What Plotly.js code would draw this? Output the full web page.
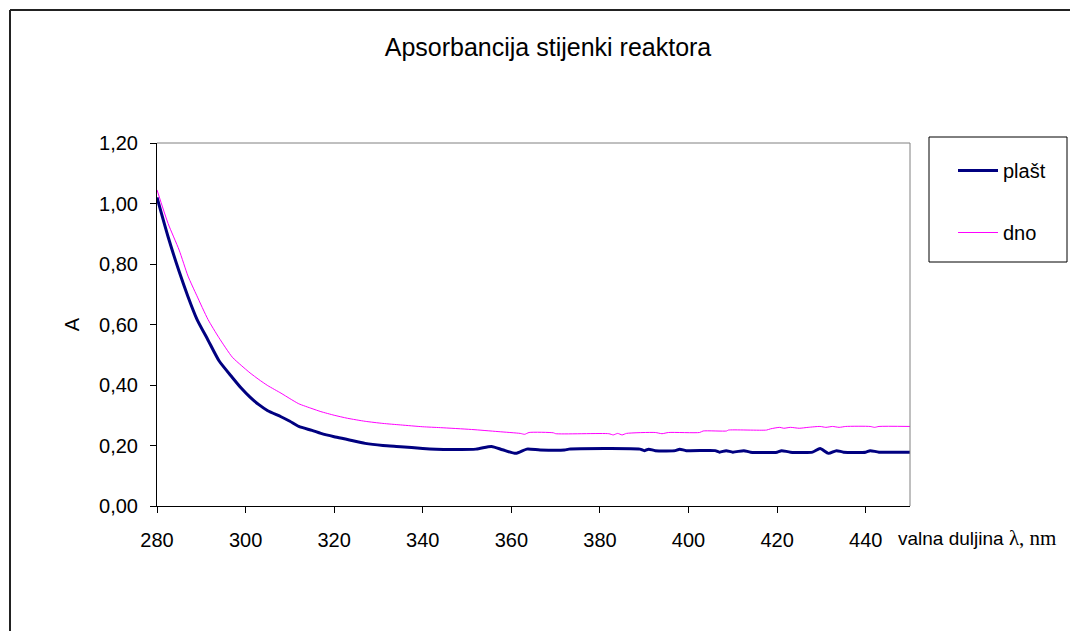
<!DOCTYPE html>
<html>
<head>
<meta charset="utf-8">
<script src="https://cdn.plot.ly/plotly-3.0.1.min.js"></script>
<style>
  html, body { margin: 0; padding: 0; background: #fff; }
  #chart { width: 1070px; height: 631px; }
</style>
</head>
<body>
<div id="chart"></div>
<script>
// Wavelength (nm) and absorbance values
const plastNm = [280, 282.5, 285, 287, 289, 291.5, 294, 297, 299, 301, 303, 305, 308, 310, 312, 315, 317, 320, 323, 327, 331, 335, 340, 343, 352, 355.5, 358, 361, 363.5, 366.5, 372, 373, 389, 390, 391, 392.5, 397, 398, 399.5, 406, 407, 408.5, 410, 412.5, 414, 420, 421, 423, 428, 429.7, 431.6, 433.4, 435, 440, 441, 443, 450];
const plastA = [1.02, 0.89, 0.775, 0.692, 0.618, 0.549, 0.48, 0.425, 0.39, 0.36, 0.335, 0.315, 0.295, 0.28, 0.263, 0.25, 0.24, 0.229, 0.22, 0.207, 0.2, 0.196, 0.19, 0.188, 0.188, 0.197, 0.186, 0.174, 0.188, 0.185, 0.185, 0.188, 0.188, 0.183, 0.188, 0.183, 0.183, 0.188, 0.183, 0.183, 0.178, 0.183, 0.178, 0.183, 0.178, 0.178, 0.183, 0.178, 0.178, 0.19, 0.174, 0.183, 0.178, 0.178, 0.183, 0.178, 0.178];

const dnoNm = [280, 282.5, 285, 287, 289, 291.5, 294, 297, 299, 301, 303, 305, 308, 310, 312, 315, 317, 320, 323, 327, 331, 335, 340, 344, 351, 357, 362, 363, 364, 369.5, 370, 382, 383, 384, 385, 386, 392.5, 394, 395.5, 402.5, 403.3, 408.6, 409, 417.6, 418.5, 420.6, 421.5, 423, 425, 427, 429.7, 431, 432.5, 434, 435.5, 441, 442, 443, 450];
const dnoA = [1.045, 0.934, 0.846, 0.76, 0.695, 0.617, 0.556, 0.492, 0.465, 0.44, 0.418, 0.398, 0.373, 0.355, 0.338, 0.322, 0.312, 0.3, 0.29, 0.28, 0.273, 0.268, 0.262, 0.259, 0.253, 0.246, 0.24, 0.237, 0.243, 0.242, 0.239, 0.239, 0.235, 0.24, 0.235, 0.24, 0.243, 0.239, 0.243, 0.243, 0.248, 0.248, 0.251, 0.251, 0.255, 0.26, 0.257, 0.26, 0.257, 0.26, 0.263, 0.26, 0.263, 0.26, 0.263, 0.263, 0.26, 0.263, 0.263];

const seriesNames = ['plašt', 'dno'];
const yTickVals = [0, 0.2, 0.4, 0.6, 0.8, 1.0, 1.2];
const yTickText = ['0,00', '0,20', '0,40', '0,60', '0,80', '1,00', '1,20'];
const xTickVals = [280, 300, 320, 340, 360, 380, 400, 420, 440];
const xTickText = ['280', '300', '320', '340', '360', '380', '400', '420', '440'];

const FONT = 'Arial, "Liberation Sans", sans-serif';

const traces = [
  {
    x: plastNm, y: plastA, type: 'scatter', mode: 'lines',
    name: seriesNames[0], legendgroup: 'g1',
    line: { color: '#000080', width: 3, shape: 'spline', smoothing: 0.6 }
  },
  {
    x: dnoNm, y: dnoA, type: 'scatter', mode: 'lines',
    name: seriesNames[1], legendgroup: 'g2',
    line: { color: '#FF00FF', width: 1, shape: 'spline', smoothing: 0.6 }
  }
];

const L = 157, R = 910, T = 143, B = 506, W = 1070, H = 631;
const px2x = p => (p - L) / (R - L);
const py2y = p => (B - p) / (B - T);

const layout = {
  width: W, height: H,
  margin: { l: L, r: W - R, t: T, b: H - B, pad: 0 },
  paper_bgcolor: '#ffffff',
  plot_bgcolor: '#ffffff',
  font: { family: FONT, size: 20, color: '#000' },
  title: {
    text: 'Apsorbancija stijenki reaktora',
    font: { family: FONT, size: 25, color: '#000' },
    x: px2x(548), xref: 'paper', xanchor: 'center',
    y: 1 - 47 / H, yref: 'container', yanchor: 'middle'
  },
  xaxis: {
    range: [280, 450],
    tickmode: 'array', tickvals: xTickVals, ticktext: xTickText,
    ticks: 'outside', ticklen: 6, tickcolor: '#000', tickwidth: 1,
    showline: true, linecolor: '#000', linewidth: 1,
    showgrid: false, zeroline: false,
    tickfont: { family: FONT, size: 20, color: '#000' },
    ticklabelstandoff: 10
  },
  yaxis: {
    range: [0, 1.2],
    tickmode: 'array', tickvals: yTickVals, ticktext: yTickText,
    ticks: 'outside', ticklen: 6, tickcolor: '#000', tickwidth: 1,
    showline: true, linecolor: '#000', linewidth: 1,
    showgrid: false, zeroline: false,
    tickfont: { family: FONT, size: 20, color: '#000' },
    ticklabelstandoff: 8,
    title: { text: 'A', font: { family: FONT, size: 20, color: '#000' }, standoff: 14 }
  },
  showlegend: true,
  legend: {
    x: px2x(953), y: py2y(151), xanchor: 'left', yanchor: 'top',
    bgcolor: 'rgba(0,0,0,0)', borderwidth: 0,
    font: { family: FONT, size: 20, color: '#000' },
    tracegroupgap: 33, itemwidth: 40
  },
  shapes: [
    // plot area top and right border (grey)
    { type: 'line', xref: 'paper', yref: 'paper', x0: 0, x1: 1, y0: 1, y1: 1, line: { color: '#808080', width: 1 } },
    { type: 'line', xref: 'paper', yref: 'paper', x0: 1, x1: 1, y0: 0, y1: 1, line: { color: '#808080', width: 1 } },
    // legend frame
    { type: 'rect', xref: 'paper', yref: 'paper', x0: px2x(929), x1: px2x(1067), y0: py2y(262), y1: py2y(137), line: { color: '#000', width: 1 } },
    // outer chart-area frame (left and top edges)
    { type: 'line', xref: 'paper', yref: 'paper', x0: px2x(10), x1: px2x(1075), y0: py2y(10), y1: py2y(10), line: { color: '#222', width: 2 } },
    { type: 'line', xref: 'paper', yref: 'paper', x0: px2x(10), x1: px2x(10), y0: py2y(10), y1: py2y(640), line: { color: '#222', width: 2 } }
  ],
  annotations: [
    {
      xref: 'paper', yref: 'paper', x: px2x(896), y: py2y(538),
      xanchor: 'left', yanchor: 'middle', showarrow: false,
      text: 'valna duljina <span style="font-family:\'Liberation Serif\', \'Times New Roman\', serif;font-size:21px">λ, nm</span>',
      font: { family: FONT, size: 19, color: '#000' }
    }
  ]
};

Plotly.newPlot('chart', traces, layout, { displayModeBar: false, staticPlot: true });
</script>
</body>
</html>
